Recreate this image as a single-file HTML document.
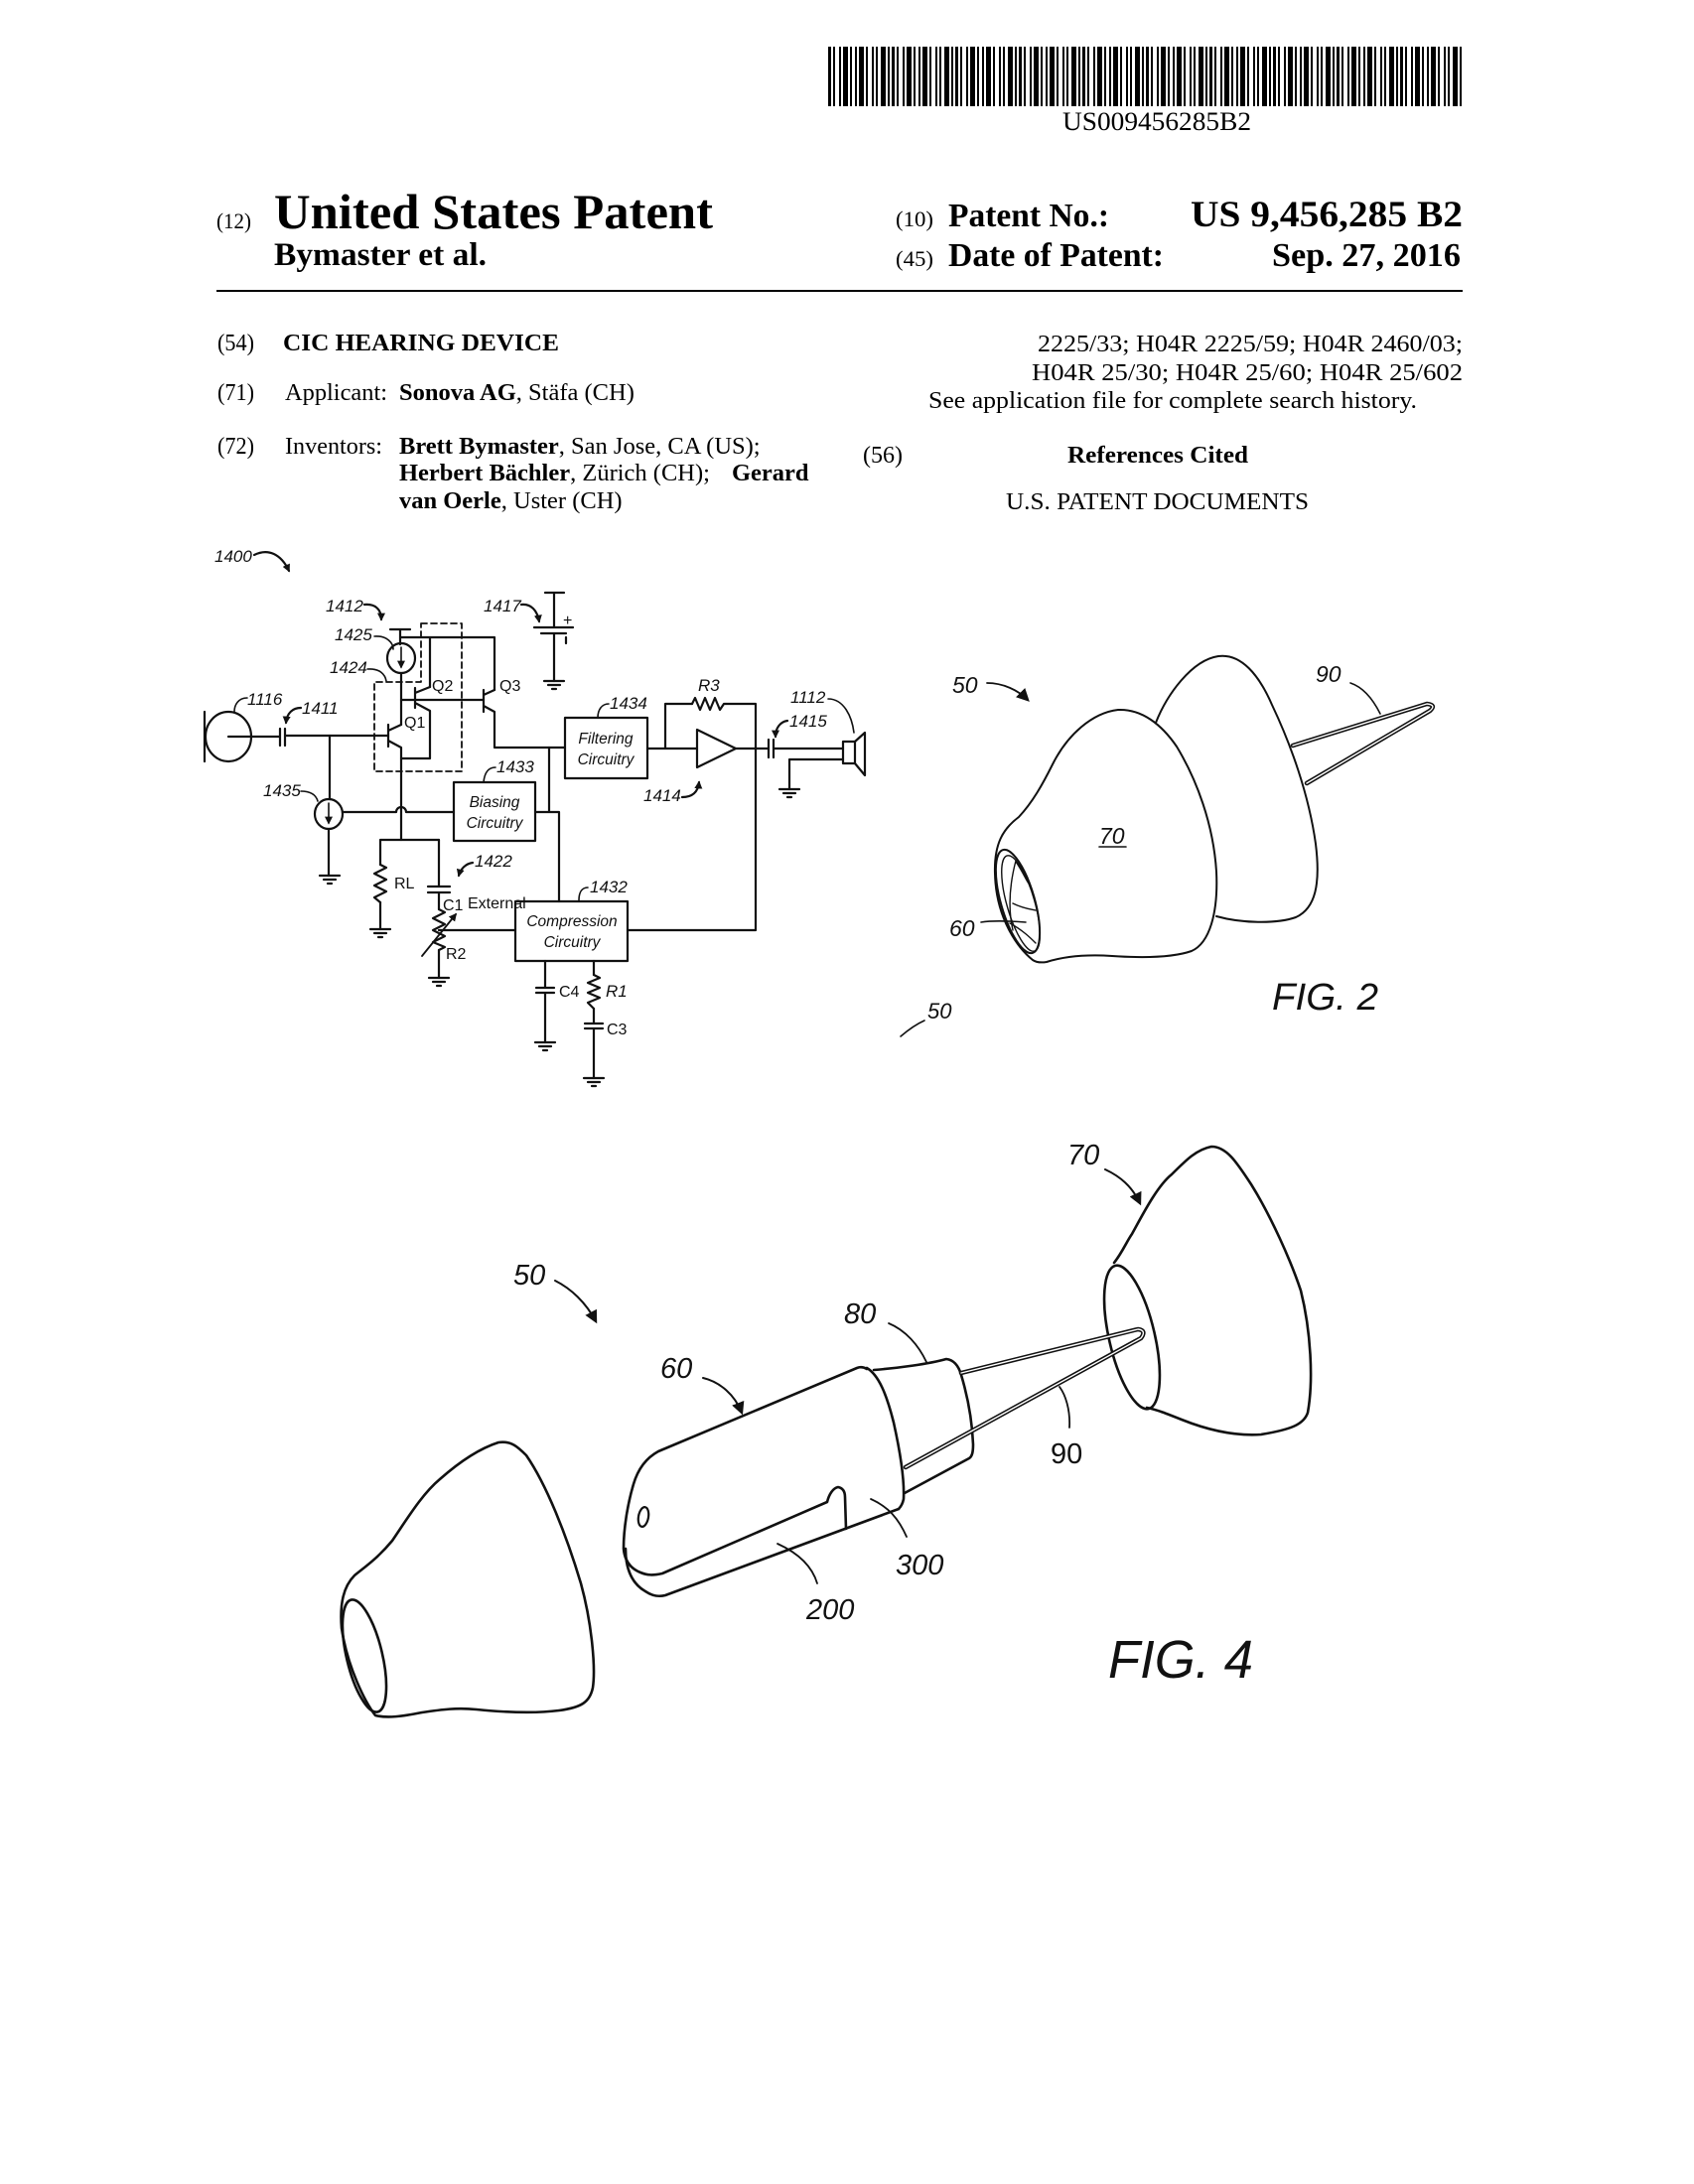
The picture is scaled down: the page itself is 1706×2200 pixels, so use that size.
<!DOCTYPE html>
<html>
<head>
<meta charset="utf-8">
<style>
html,body{margin:0;padding:0;background:#fff;width:1706px;height:2200px;overflow:hidden}
svg{display:block}
.sf{font-family:"Liberation Serif",serif;fill:#000}
.b{font-weight:bold}
.lab{font-family:"Liberation Sans",sans-serif;font-style:italic;font-size:17px;fill:#111}
.up{font-family:"Liberation Sans",sans-serif;font-size:16px;fill:#111}
.box{font-family:"Liberation Sans",sans-serif;font-style:italic;font-size:15.5px;fill:#111}
.fl{font-family:"Liberation Sans",sans-serif;font-style:italic;fill:#111}
</style>
</head>
<body>
<svg width="1706" height="2200" viewBox="0 0 1706 2200" xmlns="http://www.w3.org/2000/svg">
<defs>
<pattern id="bc" x="834" y="47" width="64" height="60" patternUnits="userSpaceOnUse">
<rect x="0" y="0" width="3" height="60" fill="#000"/>
<rect x="5" y="0" width="2" height="60" fill="#000"/>
<rect x="11" y="0" width="2" height="60" fill="#000"/>
<rect x="15" y="0" width="5" height="60" fill="#000"/>
<rect x="22" y="0" width="2" height="60" fill="#000"/>
<rect x="27" y="0" width="2" height="60" fill="#000"/>
<rect x="31" y="0" width="5" height="60" fill="#000"/>
<rect x="38" y="0" width="2" height="60" fill="#000"/>
<rect x="44" y="0" width="2" height="60" fill="#000"/>
<rect x="48" y="0" width="2" height="60" fill="#000"/>
<rect x="53" y="0" width="5" height="60" fill="#000"/>
<rect x="60" y="0" width="2" height="60" fill="#000"/>
</pattern>
<marker id="ah" viewBox="0 0 10 10" refX="8" refY="5" markerWidth="8" markerHeight="8" markerUnits="userSpaceOnUse" orient="auto"><path d="M0,0 L10,5 L0,10 z" fill="#111"/></marker>
<marker id="ahb" viewBox="0 0 10 10" refX="8" refY="5" markerWidth="13" markerHeight="13" markerUnits="userSpaceOnUse" orient="auto"><path d="M0,0 L10,5 L0,10 z" fill="#111"/></marker>
</defs>

<!-- Barcode -->
<rect x="834" y="47" width="640" height="60" fill="url(#bc)"/>
<text class="sf" x="1070" y="131" font-size="26" textLength="190" lengthAdjust="spacingAndGlyphs">US009456285B2</text>

<!-- Header -->
<text class="sf" x="218" y="230" font-size="22" textLength="35" lengthAdjust="spacingAndGlyphs">(12)</text>
<text class="sf b" x="276" y="230" font-size="50" textLength="442" lengthAdjust="spacingAndGlyphs">United States Patent</text>
<text class="sf b" x="276" y="267" font-size="33" textLength="214" lengthAdjust="spacingAndGlyphs">Bymaster et al.</text>
<text class="sf" x="902" y="228" font-size="22" textLength="38" lengthAdjust="spacingAndGlyphs">(10)</text>
<text class="sf b" x="955" y="228" font-size="34" textLength="162" lengthAdjust="spacingAndGlyphs">Patent No.:</text>
<text class="sf b" x="1199" y="228" font-size="37" textLength="274" lengthAdjust="spacingAndGlyphs">US 9,456,285 B2</text>
<text class="sf" x="902" y="268" font-size="22" textLength="38" lengthAdjust="spacingAndGlyphs">(45)</text>
<text class="sf b" x="955" y="268" font-size="34" textLength="217" lengthAdjust="spacingAndGlyphs">Date of Patent:</text>
<text class="sf b" x="1281" y="268" font-size="34" textLength="190" lengthAdjust="spacingAndGlyphs">Sep. 27, 2016</text>
<line x1="218" y1="293" x2="1473" y2="293" stroke="#000" stroke-width="2"/>

<!-- Left column -->
<text class="sf" x="219" y="353" font-size="24" textLength="37" lengthAdjust="spacingAndGlyphs">(54)</text>
<text class="sf b" x="285" y="353" font-size="24" textLength="278" lengthAdjust="spacingAndGlyphs">CIC HEARING DEVICE</text>
<text class="sf" x="219" y="403" font-size="24" textLength="37" lengthAdjust="spacingAndGlyphs">(71)</text>
<text class="sf" x="287" y="403" font-size="24" textLength="103" lengthAdjust="spacingAndGlyphs">Applicant:</text>
<text class="sf" x="402" y="403" font-size="24.5"><tspan font-weight="bold">Sonova AG</tspan>, Stäfa (CH)</text>
<text class="sf" x="219" y="457" font-size="24" textLength="37" lengthAdjust="spacingAndGlyphs">(72)</text>
<text class="sf" x="287" y="457" font-size="24" textLength="98" lengthAdjust="spacingAndGlyphs">Inventors:</text>
<text class="sf" x="402" y="457" font-size="24.5"><tspan font-weight="bold">Brett Bymaster</tspan>, San Jose, CA (US);</text>
<text class="sf" x="402" y="484" font-size="24.5"><tspan font-weight="bold">Herbert Bächler</tspan>, Zürich (CH); <tspan x="737" font-weight="bold">Gerard</tspan></text>
<text class="sf" x="402" y="512" font-size="24.5"><tspan font-weight="bold">van Oerle</tspan>, Uster (CH)</text>

<!-- Right column -->
<text class="sf" x="1045" y="354" font-size="24" textLength="428" lengthAdjust="spacingAndGlyphs">2225/33; H04R 2225/59; H04R 2460/03;</text>
<text class="sf" x="1039" y="383" font-size="24" textLength="434" lengthAdjust="spacingAndGlyphs">H04R 25/30; H04R 25/60; H04R 25/602</text>
<text class="sf" x="935" y="411" font-size="24" textLength="492" lengthAdjust="spacingAndGlyphs">See application file for complete search history.</text>
<text class="sf" x="869" y="466" font-size="24" textLength="40" lengthAdjust="spacingAndGlyphs">(56)</text>
<text class="sf b" x="1075" y="466" font-size="24" textLength="182" lengthAdjust="spacingAndGlyphs">References Cited</text>
<text class="sf" x="1013" y="513" font-size="24" textLength="305" lengthAdjust="spacingAndGlyphs">U.S. PATENT DOCUMENTS</text>

<!-- ================= CIRCUIT (FIG 1400) ================= -->
<g fill="none" stroke="#111" stroke-width="2.2" stroke-linecap="round" stroke-linejoin="round">
  <!-- label arrows -->
  <path d="M256,559 C270,552 283,558 291,575" marker-end="url(#ah)"/>
  <path d="M367,609 C378,608 384,614 384,624" marker-end="url(#ah)"/>
  <path d="M525,609 C535,608 541,615 543,626" marker-end="url(#ah)"/>
  <path d="M377,641 C390,640 396,648 396,654" stroke-width="1.6"/>
  <path d="M370,674 C383,673 388,680 389,686" stroke-width="1.6"/>
  <path d="M249,703 C240,703 236,710 236,717" stroke-width="1.6"/>
  <path d="M303,713 C295,713 289,718 288,728" marker-end="url(#ah)"/>
  <path d="M303,797 C312,797 318,800 320,807" stroke-width="1.6"/>
  <path d="M499,773 C492,773 488,778 487,788" stroke-width="1.6"/>
  <path d="M613,709 C606,709 602,715 602,723" stroke-width="1.6"/>
  <path d="M834,704 C850,704 858,722 860,738" stroke-width="1.6"/>
  <path d="M793,726 C786,727 781,733 781,742" marker-end="url(#ah)"/>
  <path d="M687,803 C697,803 703,798 704,788" marker-end="url(#ah)"/>
  <path d="M476,869 C469,870 464,875 462,882" marker-end="url(#ah)"/>
  <path d="M592,894 C586,894 583,899 583,907" stroke-width="1.6"/>

  <!-- battery 1417 -->
  <path d="M549,597H568 M558,597V632 M538,632H577 M545,638H570 M558,638V686 M570,642V648"/>
  <path d="M548,686H568M552,690H564M556,694H560"/>

  <!-- dashed boxes -->
  <path d="M424,628 L465,628 L465,777 L377,777 L377,687 L424,687 Z" stroke-dasharray="6,4" stroke-width="1.8"/>

  <!-- 1425 current source -->
  <path d="M393,634H413 M403,634V649"/>
  <ellipse cx="404" cy="663" rx="14" ry="15"/>
  <path d="M404,652V672" marker-end="url(#ah)" stroke-width="1.6"/>
  <path d="M404,678V730"/>
  <!-- top rail -->
  <path d="M404,642H498 M433,642V692 M498,642V695"/>
  <!-- Q2 -->
  <path d="M418,693V713 M418,698L433,692 M418,708L433,716V764H404"/>
  <!-- base line -->
  <path d="M404,705H487"/>
  <!-- Q3 -->
  <path d="M487,695V717 M487,700L498,695 M487,711L498,717V753H569"/>
  <!-- Q1 -->
  <path d="M391,730V752 M391,736L404,730 M391,746L404,753V846"/>
  <!-- input -->
  <ellipse cx="230" cy="742" rx="23" ry="25"/>
  <path d="M206,717V767 M230,742H282 M282,734V751 M287,734V751 M287,741H391"/>
  <path d="M332,741V805"/>
  <ellipse cx="331" cy="820" rx="14" ry="15"/>
  <path d="M331,809V829" marker-end="url(#ah)" stroke-width="1.6"/>
  <path d="M331,835V882"/>
  <path d="M322,882H342M326,886H338M330,890H334"/>
  <!-- 1435 line with hump -->
  <path d="M345,818 L399,818 A5,5 0 0 1 409,818 L457,818"/>
  <!-- RL / C1 / R2 -->
  <path d="M383,846H442 M383,846V871"/>
  <polyline points="383,871 389,874 377,880 389,886 377,892 389,898 377,904 383,909"/>
  <path d="M383,909V936"/>
  <path d="M373,936H393M377,940H389M381,944H385"/>
  <path d="M442,846V893 M431,893H453 M431,899H453 M442,899V916"/>
  <polyline points="442,916 448,919 436,925 448,931 436,937 448,943 436,949 448,954 442,957"/>
  <path d="M442,957V985"/>
  <path d="M432,985H452M436,989H448M440,993H444"/>
  <path d="M425,963L459,921" marker-end="url(#ah)" stroke-width="1.8"/>
  <path d="M442,937H519"/>
  <!-- boxes -->
  <rect x="457" y="788" width="82" height="59"/>
  <rect x="569" y="723" width="83" height="61"/>
  <rect x="519" y="908" width="113" height="60"/>
  <path d="M553,753V818 M539,818H563V908"/>
  <!-- output chain -->
  <path d="M632,937H761V709H731 M697,709H670V754 M652,754H702"/>
  <polyline points="697,709 700,703 705,715 710,703 715,715 720,703 725,715 729,709 731,709"/>
  <path d="M702,735L702,773L741,754Z"/>
  <path d="M741,754H774 M774,745V763 M779,745V763 M779,754H849"/>
  <rect x="849" y="747" width="12" height="22"/>
  <path d="M861,747L871,738V781L861,769"/>
  <path d="M849,765H795V795"/>
  <path d="M785,795H805M789,799H801M793,803H797"/>
  <!-- compression lower -->
  <path d="M549,968V995 M540,995H558 M540,1000H558 M549,1000V1050"/>
  <path d="M539,1050H559M543,1054H555M547,1058H551"/>
  <path d="M598,968V982"/>
  <polyline points="598,982 604,985 592,990 604,995 592,1000 604,1005 592,1010 598,1016"/>
  <path d="M598,1016V1031 M589,1031H607 M589,1036H607 M598,1036V1086"/>
  <path d="M588,1086H608M592,1090H604M596,1094H600"/>
</g>
<!-- circuit labels -->
<text class="lab" x="216" y="566">1400</text>
<text class="lab" x="328" y="616">1412</text>
<text class="lab" x="487" y="616">1417</text>
<text class="lab" x="337" y="645">1425</text>
<text class="lab" x="332" y="678">1424</text>
<text class="lab" x="249" y="710">1116</text>
<text class="lab" x="304" y="719">1411</text>
<text class="lab" x="265" y="802">1435</text>
<text class="lab" x="500" y="778">1433</text>
<text class="lab" x="614" y="714">1434</text>
<text class="lab" x="703" y="696">R3</text>
<text class="lab" x="796" y="708">1112</text>
<text class="lab" x="795" y="732">1415</text>
<text class="lab" x="648" y="807">1414</text>
<text class="lab" x="478" y="873">1422</text>
<text class="lab" x="594" y="899">1432</text>
<text class="up" x="567" y="630" font-size="12">+</text>
<text class="up" x="407" y="733">Q1</text>
<text class="up" x="435" y="696">Q2</text>
<text class="up" x="503" y="696">Q3</text>
<text class="up" x="397" y="895">RL</text>
<text class="up" x="446" y="917" font-size="18">C1</text>
<text class="up" x="471" y="915" font-size="8">External</text>
<text class="up" x="449" y="966">R2</text>
<text class="up" x="563" y="1004">C4</text>
<text class="lab" x="610" y="1004" font-size="16">R1</text>
<text class="up" x="611" y="1042">C3</text>
<text class="box" x="498" y="813" text-anchor="middle">Biasing</text>
<text class="box" x="498" y="834" text-anchor="middle">Circuitry</text>
<text class="box" x="610" y="749" text-anchor="middle">Filtering</text>
<text class="box" x="610" y="770" text-anchor="middle">Circuitry</text>
<text class="box" x="576" y="933" text-anchor="middle">Compression</text>
<text class="box" x="576" y="954" text-anchor="middle">Circuitry</text>

<!-- ================= FIG 2 ================= -->
<g fill="none" stroke="#111" stroke-width="2" stroke-linecap="round" stroke-linejoin="round">
  <!-- back dome -->
  <path d="M1164,728 C1175,700 1200,665 1227,661 C1250,658 1268,680 1281,710 C1300,750 1318,800 1325,850 C1330,890 1325,915 1305,924 C1285,931 1250,930 1225,923"/>
  <!-- stem 90 -->
  <path d="M1302,751 L1437,709 Q1447,710 1440,716 L1316,789" stroke-width="4.5"/>
  <path d="M1302,751 L1437,709 Q1447,710 1440,716 L1316,789" stroke="#fff" stroke-width="1.4"/>
  <!-- front dome -->
  <path d="M1040,967 C1025,955 1003,925 1002,880 C1001,850 1010,835 1026,823 C1040,808 1050,790 1060,770 C1075,740 1100,718 1126,715 C1150,714 1170,730 1185,752 C1205,785 1222,830 1225,878 C1227,920 1218,950 1200,958 C1180,965 1150,965 1120,963 C1090,961 1070,964 1054,969 C1048,970 1043,969 1040,967 Z" fill="#fff"/>
  <!-- opening -->
  <ellipse cx="1025" cy="908" rx="17" ry="54" transform="rotate(-16 1025 908)"/>
  <ellipse cx="1028" cy="910" rx="14" ry="50" transform="rotate(-16 1028 910)" stroke-width="1.4"/>
  <path d="M1023,867 C1017,890 1015,915 1020,937 M1020,910 C1030,915 1038,916 1043,917 M1017,930 C1030,937 1038,945 1043,950 M1023,868 C1030,878 1033,886 1036,890" stroke-width="1.4"/>
  <!-- leaders -->
  <path d="M988,929 C1000,927 1020,928 1033,929" stroke-width="1.6"/>
  <path d="M994,688 C1010,688 1025,695 1035,705" marker-end="url(#ahb)" stroke-width="1.8"/>
  <path d="M1360,688 C1372,692 1382,703 1390,719" stroke-width="1.6"/>
  <path d="M907,1044 C914,1038 922,1032 931,1028" stroke-width="1.6"/>
  <path d="M1107,853H1134" stroke-width="1.6"/>
</g>
<text class="fl" x="959" y="698" font-size="23">50</text>
<text class="fl" x="1325" y="687" font-size="23">90</text>
<text class="fl" x="1107" y="850" font-size="23">70</text>
<text class="fl" x="956" y="943" font-size="23">60</text>
<text class="fl" x="934" y="1026" font-size="22">50</text>
<text class="fl" x="1281" y="1017" font-size="38" textLength="107" lengthAdjust="spacingAndGlyphs">FIG. 2</text>

<!-- ================= FIG 4 ================= -->
<g fill="none" stroke="#111" stroke-width="2.6" stroke-linecap="round" stroke-linejoin="round">
  <!-- left cone -->
  <path d="M378,1728 C368,1715 350,1680 344,1640 C342,1615 346,1598 357,1587 C368,1578 380,1570 395,1552 C410,1530 425,1505 443,1490 C460,1475 480,1460 502,1453 C515,1451 522,1458 530,1466 C550,1495 570,1545 585,1595 C596,1635 600,1680 597,1700 C594,1715 585,1720 563,1723 C540,1726 510,1725 480,1722 C460,1720 445,1722 425,1725 C405,1729 390,1731 378,1728 Z"/>
  <ellipse cx="367" cy="1668" rx="18" ry="58" transform="rotate(-13.3 367 1668)"/>
  <!-- right cone 70 -->
  <path d="M1122,1272 C1130,1262 1135,1250 1140,1243 C1150,1225 1165,1195 1180,1183 C1195,1168 1205,1158 1220,1155 C1235,1155 1245,1170 1260,1193 C1280,1225 1300,1270 1310,1300 C1320,1340 1323,1390 1317,1423 C1313,1435 1300,1440 1270,1445 C1240,1447 1210,1438 1190,1430 C1175,1424 1165,1420 1155,1418"/>
  <ellipse cx="1140" cy="1347" rx="23" ry="74" transform="rotate(-13 1140 1347)"/>
  <!-- body 60 -->
  <path d="M873,1379 Q868,1376 863,1378 L663,1462 C652,1468 643,1478 638,1495 C632,1515 628,1540 628,1560 C629,1572 635,1580 645,1584 C652,1587 658,1587 667,1585 L833,1513 C835,1505 839,1499 844,1498 C849,1499 851,1503 851,1508 L852,1540"/>
  <path d="M630,1560 C630,1580 636,1595 650,1603 C656,1607 662,1609 670,1607 L905,1520"/>
  <path d="M873,1378 C885,1385 893,1405 900,1433 C906,1460 911,1490 910,1510 C909,1515 907,1518 905,1520"/>
  <!-- band 80 -->
  <path d="M880,1380 C905,1378 935,1374 953,1369 C962,1370 966,1378 968,1385 C974,1405 979,1430 980,1455 C980,1463 979,1467 976,1469 L911,1504"/>
  <!-- hole -->
  <ellipse cx="648" cy="1528" rx="5" ry="10" transform="rotate(10 648 1528)" stroke-width="2.2"/>
  <!-- stem 90 -->
  <path d="M968,1383 L1146,1339 Q1155,1340 1149,1348 L912,1478" stroke-width="4.5"/>
  <path d="M968,1383 L1146,1339 Q1155,1340 1149,1348 L912,1478" stroke="#fff" stroke-width="1.4"/>
  <!-- leaders -->
  <path d="M895,1333 C912,1340 925,1355 933,1372" stroke-width="1.8"/>
  <path d="M708,1388 C725,1392 740,1405 747,1423" marker-end="url(#ahb)" stroke-width="2"/>
  <path d="M559,1290 C575,1298 590,1312 600,1331" marker-end="url(#ahb)" stroke-width="2"/>
  <path d="M1113,1178 C1128,1185 1140,1195 1148,1212" marker-end="url(#ahb)" stroke-width="2"/>
  <path d="M1077,1438 C1078,1420 1073,1405 1067,1397" stroke-width="1.8"/>
  <path d="M913,1548 C905,1530 895,1518 877,1510" stroke-width="1.8"/>
  <path d="M823,1595 C818,1578 805,1565 783,1555" stroke-width="1.8"/>
</g>
<text class="fl" x="1075" y="1173" font-size="29">70</text>
<text class="fl" x="850" y="1333" font-size="29">80</text>
<text class="fl" x="665" y="1388" font-size="29">60</text>
<text class="fl" x="517" y="1294" font-size="29">50</text>
<text x="1058" y="1474" font-size="29" style="font-family:'Liberation Sans',sans-serif;fill:#111">90</text>
<text class="fl" x="902" y="1586" font-size="29">300</text>
<text class="fl" x="812" y="1631" font-size="29">200</text>
<text class="fl" x="1116" y="1690" font-size="54" textLength="146" lengthAdjust="spacingAndGlyphs">FIG. 4</text>
</svg>
</body>
</html>
